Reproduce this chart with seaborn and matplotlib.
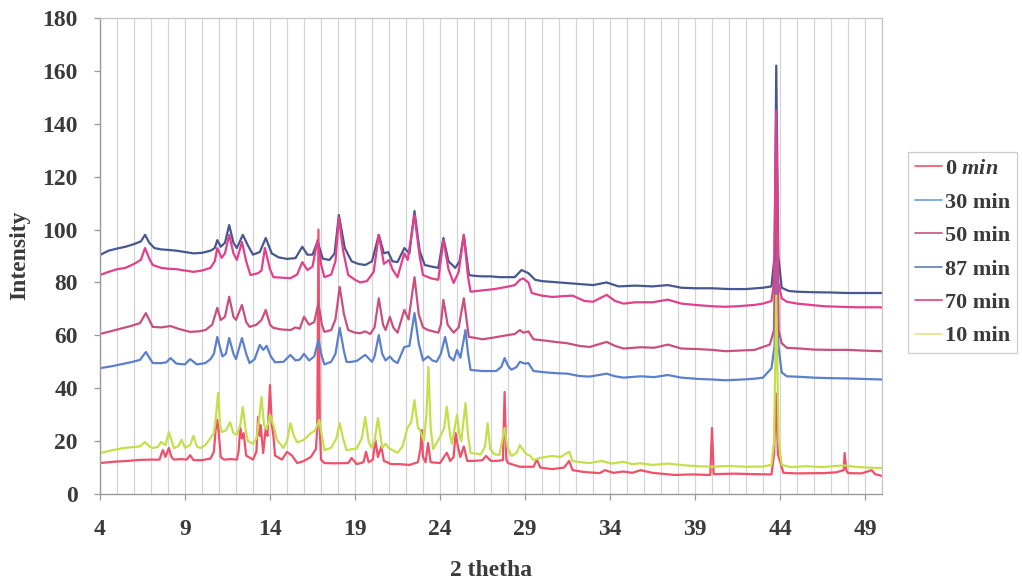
import numpy as np
import pandas as pd
import matplotlib
matplotlib.use("Agg")
import matplotlib.pyplot as plt
from matplotlib.lines import Line2D
import seaborn as sns

# ---------------- data ----------------
series_names = ["0 min", "30 min", "50 min", "87 min", "70 min", "10 min"]

s87 = [(4.0,90.4),(4.5,92),(5.0,92.8),(5.5,93.5),(6.0,94.5),(6.4,95.5),(6.65,98),(6.9,95),(7.2,93),(7.6,92.5),
       (8.0,92.3),(8.5,92),(9.0,91.5),(9.5,91),(10.0,91.2),(10.5,92),(10.75,93),(10.9,96),(11.1,93.5),(11.35,95),
       (11.6,101.7),(11.85,95),(12.05,93),(12.4,98),(12.7,94),(13.0,90.5),(13.4,91.5),(13.75,96.8),(14.1,91),(14.5,89.5),
       (15.0,88.9),(15.5,89.2),(15.9,93.5),(16.2,90.5),(16.5,90.5),(16.8,95.5),(17.1,89),(17.5,88.5),(17.8,91),(18.05,105.5),
       (18.4,93),(18.8,88),(19.2,87),(19.6,86.6),(20.0,88),(20.4,98),(20.7,91),(20.95,91.5),(21.2,88),(21.5,87.7),
       (21.9,93),(22.2,91),(22.5,107),(22.8,92),(23.1,86.6),(23.5,86),(23.9,85.5),(24.2,96.8),(24.5,88),(24.9,85.5),
       (25.15,88),(25.4,98),(25.7,82.8),(26.0,82.5),(26.5,82.3),(27.0,82.3),(27.5,82),(28.0,82),(28.4,82),(28.8,84.7),
       (29.2,83.5),(29.6,81),(30.0,80.5),(31.0,80),(32.0,79.5),(33.0,79),(33.8,80),(34.5,78.5),(35.5,78.8),(36.5,78.5),
       (37.4,79),(38.2,78),(39.0,77.8),(40.0,77.8),(41.0,77.5),(42.0,77.5),(43.0,78),(43.5,78.5),(43.68,90),(43.78,162),
       (43.9,90),(44.1,78),(44.5,76.8),(45.0,76.5),(46.0,76.3),(47.0,76.2),(48.0,76),(49.0,76),(50.0,76)]

s70 = [(4.0,82.8),(4.5,84),(5.0,85),(5.5,85.5),(6.0,87),(6.4,88.5),(6.65,93),(6.9,89),(7.1,86.6),(7.6,85.5),
       (8.0,85.2),(8.5,85),(9.0,84.5),(9.5,84),(10.0,84.5),(10.5,85.5),(10.75,88),(10.9,93),(11.15,89.3),(11.35,91),
       (11.6,98),(11.85,91),(12.05,88.5),(12.35,95.3),(12.6,88),(12.85,82.8),(13.3,83.5),(13.5,84.5),(13.7,93),(14.0,85),
       (14.2,82),(14.7,81.8),(15.2,81.6),(15.6,83),(15.9,87.7),(16.2,84.7),(16.5,86),(16.8,96),(17.0,87),(17.2,82),
       (17.6,83),(17.85,88),(18.05,104.5),(18.3,92),(18.6,82.8),(19.0,81),(19.3,80),(19.7,80.5),(20.1,84),(20.4,98),
       (20.7,87),(21.0,88.5),(21.2,85),(21.5,82),(21.9,91),(22.1,88.5),(22.5,105.5),(22.8,90),(23.0,82.8),(23.5,81.5),
       (23.9,81),(24.2,96),(24.5,85),(24.8,79.8),(25.1,84),(25.4,98),(25.65,82),(25.8,76.5),(26.5,77),(27.2,77.5),
       (27.9,78.3),(28.4,79),(28.7,81),(28.9,81.5),(29.2,80),(29.4,76),(30.0,75),(30.6,74.5),(31.2,74.8),(31.8,75),
       (32.5,73),(33.0,72.7),(33.8,75.3),(34.3,73),(34.8,72),(35.5,72.5),(36.5,72.5),(37.4,73.5),(38.2,72),(39.0,71.5),
       (40.0,71),(40.8,70.8),(41.5,71),(42.5,71.5),(43.0,72),(43.5,73),(43.65,80),(43.78,145),(43.9,80),(44.1,74),
       (44.4,72.7),(45.0,72),(45.8,71.5),(46.6,71),(47.5,70.8),(48.5,70.6),(49.9,70.6),(50.0,70.5)]

s50 = [(4.0,60.5),(4.6,61.5),(5.2,62.5),(5.8,63.5),(6.35,64.6),(6.7,68.4),(7.1,63.2),(7.6,63),(8.15,63.5),(8.6,62.5),
       (9.3,61.3),(9.8,61.5),(10.2,62),(10.6,64),(10.9,70.4),(11.1,65.8),(11.35,67),(11.6,74.6),(11.85,67),(12.0,65.8),
       (12.35,71.5),(12.6,65),(12.8,63.2),(13.2,64),(13.5,65.8),(13.75,69.6),(14.0,64),(14.2,62.8),(14.7,62.2),(15.2,62),
       (15.5,63),(15.75,62.5),(16.0,67),(16.3,64),(16.6,65),(16.85,72.2),(17.05,64),(17.2,61.3),(17.6,62),(17.85,66),
       (18.1,78.3),(18.35,68),(18.6,62),(19.0,61),(19.3,60.8),(19.6,61.5),(19.9,60.5),(20.15,63),(20.4,74),(20.65,64),
       (20.8,62),(21.05,67),(21.25,63),(21.5,61),(21.9,69.6),(22.15,66),(22.5,82),(22.75,68),(23.0,63),(23.3,62),
       (23.9,61),(24.05,64),(24.2,73.4),(24.45,64),(24.8,61),(25.1,63),(25.4,74),(25.6,64),(25.7,59.4),(26.1,59),
       (26.5,58.5),(27.2,59.2),(27.9,60),(28.4,60.5),(28.7,62),(28.9,61),(29.2,61.5),(29.5,58.5),(30.2,58),(30.8,57.5),
       (31.5,57),(32.2,56),(32.8,55.6),(33.8,57.5),(34.3,56),(34.8,55),(35.8,55.5),(36.6,55.3),(37.4,56.5),(38.2,55),
       (39.2,54.8),(40.0,54.5),(40.8,54),(41.8,54.3),(42.5,54.5),(43.0,55.6),(43.4,56.5),(43.65,62),(43.78,125),(43.92,62),
       (44.1,57),(44.4,55.3),(45.2,55),(46.0,54.6),(47.0,54.5),(48.0,54.5),(49.0,54.2),(50.0,54)]

s30 = [(4.0,47.6),(4.6,48.2),(5.2,49),(5.8,49.8),(6.35,50.7),(6.7,53.7),(7.1,49.5),(7.6,49.5),(7.9,49.8),(8.15,51.4),
       (8.5,49.3),(9.0,49),(9.3,51),(9.7,49),(10.2,49.5),(10.5,51),(10.7,53),(10.9,59.4),(11.2,52),(11.4,53),
       (11.6,59),(11.85,53),(12.0,51),(12.35,59),(12.6,53),(12.8,49.5),(13.1,51),(13.4,56.4),(13.6,54.5),(13.8,56),
       (14.05,52),(14.3,49.8),(14.8,50),(15.2,52.6),(15.5,50.5),(15.75,50.8),(16.0,53),(16.3,50.5),(16.6,52),(16.85,58.2),
       (17.05,52),(17.2,49),(17.6,50),(17.85,53),(18.1,62.8),(18.35,54),(18.5,50),(18.7,49.9),(19.1,50.3),(19.6,52.6),
       (20.0,50),(20.15,52),(20.4,60.1),(20.6,53),(20.8,50.5),(21.05,52),(21.25,50.5),(21.5,49.5),(21.9,55.6),(22.2,56),
       (22.5,68.4),(22.75,57),(23.0,50.5),(23.3,52),(23.55,50.5),(23.8,50),(24.05,53),(24.3,59.4),(24.55,52),(24.8,50.5),
       (25.0,54.5),(25.2,51.5),(25.5,62),(25.65,53),(25.8,46.9),(26.5,46.5),(27.3,46.5),(27.6,48),(27.8,51.4),(28.0,48.5),
       (28.2,47),(28.5,48),(28.7,50),(29.0,49.3),(29.2,49.5),(29.5,46.5),(30.2,46),(30.8,45.7),(31.5,45.5),(32.2,44.6),
       (32.8,44.4),(33.8,45.5),(34.3,44.5),(34.8,44),(35.8,44.5),(36.6,44.2),(37.4,45),(38.2,44),(39.2,43.5),(40.0,43.3),
       (40.8,43),(41.8,43.3),(42.5,43.6),(43.0,44),(43.5,47.6),(43.68,56),(43.78,100),(43.9,56),(44.1,46),(44.4,44.5),
       (45.2,44.3),(46.0,44),(47.0,43.8),(48.0,43.7),(49.0,43.5),(50.0,43.3)]

s10 = [(4.0,15.5),(4.7,16.5),(5.4,17.4),(6.0,17.8),(6.35,18),(6.65,19.7),(6.9,18),(7.1,17.4),(7.4,17.8),(7.6,19.7),
       (7.85,18.5),(8.05,23.4),(8.35,17.4),(8.6,18),(8.8,20.5),(9.0,17.5),(9.3,18.5),(9.5,22),(9.7,18),(9.9,17.4),
       (10.2,18.5),(10.5,21.2),(10.7,23),(10.8,28),(10.95,38.2),(11.05,27),(11.15,23.4),(11.4,24),(11.65,27.2),(11.85,23),
       (12.05,22.5),(12.25,26),(12.4,32.9),(12.55,25),(12.7,20),(13.0,19),(13.2,21),(13.3,25.3),(13.5,36.7),(13.65,26),
       (13.8,24.5),(14.0,30),(14.1,28),(14.25,25),(14.4,20.5),(14.8,17.4),(15.0,20),(15.2,26.8),(15.4,22),(15.6,19.5),
       (16.0,20.5),(16.4,23),(16.65,24),(16.9,28),(17.05,22),(17.2,16.6),(17.6,17.5),(17.9,21),(18.1,26.8),(18.3,21),
       (18.5,16.6),(19.1,17.2),(19.4,21),(19.6,29.1),(19.8,20),(19.95,17.5),(20.15,20),(20.35,28.7),(20.5,22),(20.6,17.5),
       (20.8,19),(21.0,17.3),(21.5,15.6),(21.8,18),(22.1,25.3),(22.3,27),(22.5,35.5),(22.7,25),(22.8,24.5),(23.05,20),
       (23.2,30),(23.32,48),(23.45,25),(23.6,17),(24.0,21.5),(24.25,25),(24.4,33),(24.6,22),(24.7,19),(25.0,29.9),
       (25.15,22),(25.25,20),(25.5,34.4),(25.65,22),(25.8,15.5),(26.2,15.2),(26.4,15),(26.65,18),(26.8,26.8),(26.95,17),
       (27.2,15),(27.5,14.8),(27.8,25),(27.95,18),(28.2,14.4),(28.5,15.5),(28.7,18.5),(28.9,16.5),(29.1,15),(29.3,14.5),
       (29.5,12.9),(30.0,13.8),(30.6,14.4),(31.1,14),(31.6,16),(31.8,12.5),(32.3,12),(32.8,11.7),(33.5,12.5),(34.1,11.5),
       (34.8,12.2),(35.3,11.3),(35.8,11.6),(36.5,11),(37.4,11.5),(38.5,10.8),(39.2,10.5),(40.0,10.3),(41.0,10.6),(42.0,10.3),
       (43.0,10.4),(43.5,11),(43.65,20),(43.78,75),(43.92,20),(44.1,11),(44.6,10.2),(45.5,10.5),(46.5,10.2),(47.3,10.6),
       (47.8,10.8),(48.5,10.2),(49.2,10),(50.0,9.8)]

s0 = [(4.0,11.7),(4.8,12.2),(5.6,12.5),(6.35,12.9),(7.0,13),(7.5,13),(7.6,15),(7.7,16.6),(7.85,14),(8.05,17.4),
      (8.2,14),(8.35,13),(8.8,13.2),(9.1,13),(9.3,14.7),(9.5,12.8),(10.0,12.8),(10.5,13.4),(10.7,16),(10.8,24.2),
      (10.9,28),(11.0,22),(11.1,14),(11.3,13),(11.7,13.2),(12.05,13),(12.15,16),(12.25,25.3),(12.35,21),(12.45,23),
      (12.6,14.5),(13.0,13),(13.2,16),(13.3,29.1),(13.4,22),(13.45,26),(13.6,15.5),(13.75,25),(13.85,22),(14.0,41.2),
      (14.1,26.5),(14.2,22),(14.3,14.5),(14.7,13),(15.0,15.9),(15.3,14.5),(15.6,11.7),(16.0,12.5),(16.4,14),(16.7,17),
      (16.78,25),(16.85,100),(16.93,25),(17.0,13),(17.2,11.7),(17.8,11.6),(18.6,11.7),(18.8,13.6),(19.1,11.3),(19.5,12),
      (19.65,16),(19.8,12),(20.05,13),(20.2,20.4),(20.35,14),(20.55,18),(20.7,12.5),(20.9,12),(21.1,11.3),(21.6,11.3),
      (22.2,11),(22.7,12),(22.85,17),(22.92,24.2),(23.0,14),(23.15,12),(23.3,19.3),(23.45,12),(24.0,11.7),(24.4,15.6),
      (24.6,12.5),(24.8,14),(24.92,23),(25.05,18),(25.2,14),(25.4,18),(25.6,12.5),(26.0,12.5),(26.5,12.8),(26.7,14.4),
      (27.0,12.5),(27.3,12.5),(27.7,12.8),(27.8,38.6),(27.9,13),(28.0,11.7),(28.7,10.3),(29.5,10.3),(29.7,13),(29.9,10),
      (30.6,9.4),(31.3,10),(31.6,12.5),(31.8,9),(32.5,8.3),(33.4,7.9),(33.7,9),(34.2,8),(34.8,8.5),(35.3,8),
      (35.8,9),(36.5,8),(37.8,7.2),(38.8,7.4),(39.9,7.2),(40.0,25),(40.1,7.5),(41.3,7.7),(42.5,7.5),(43.5,7.4),
      (43.65,15),(43.76,38),(43.88,15),(44.2,8),(45.0,7.8),(46.6,7.9),(47.3,8.2),(47.75,9),(47.8,15.5),(47.9,9),
      (48.0,7.9),(48.8,7.8),(49.4,9),(49.6,7.5),(50.0,6.8)]

x_ticks = [4, 9, 14, 19, 24, 29, 34, 39, 44, 49]
y_ticks = [0, 20, 40, 60, 80, 100, 120, 140, 160, 180]

series_data = {"0 min": s0, "30 min": s30, "50 min": s50, "87 min": s87, "70 min": s70, "10 min": s10}
colors = {"0 min": "#f0506a", "30 min": "#5b80cc", "50 min": "#c9507e",
          "87 min": "#47578f", "70 min": "#e2408c", "10 min": "#c5df4c"}
legend_colors = {"0 min": "#f0506a", "30 min": "#6a9fd0", "50 min": "#c9507e",
                 "87 min": "#5b7fb0", "70 min": "#e2408c", "10 min": "#dde88a"}

frames = []
for name in series_names:
    pts = series_data[name]
    frames.append(pd.DataFrame({"theta": [p[0] for p in pts],
                                "intensity": [p[1] for p in pts],
                                "series": name}))
df = pd.concat(frames, ignore_index=True)

# ---------------- figure ----------------
sns.set_theme(style="white")
plt.rcParams["font.family"] = ["Liberation Serif", "DejaVu Serif"]
plt.rcParams["font.weight"] = "bold"
plt.rcParams["mathtext.fontset"] = "custom"
plt.rcParams["mathtext.it"] = "Liberation Serif:italic:bold"
plt.rcParams["mathtext.rm"] = "Liberation Serif:bold"

fig = plt.figure(figsize=(10.22, 5.85), dpi=100)
ax = fig.add_axes([100 / 1022, 91 / 585, 782 / 1022, 476 / 585])

sns.lineplot(data=df, x="theta", y="intensity", hue="series", hue_order=series_names,
             palette=colors, estimator=None, sort=True, linewidth=1.6, ax=ax, legend=False)

ax.set_xlim(4, 50)
ax.set_ylim(0, 180)
ax.set_xticks(x_ticks)
ax.set_xticks(np.arange(4, 51, 1), minor=True)
ax.set_yticks(y_ticks)
ax.grid(False)
ax.xaxis.grid(True, which="both", color="#d4d4d4", linewidth=0.9)
ax.set_axisbelow(True)

ax.tick_params(axis="both", which="major", labelsize=17, labelcolor="#3a3a3a",
               color="#999999", length=4, width=0.9, direction="out")
ax.tick_params(axis="both", which="minor", length=0)
ax.tick_params(axis="x", pad=14)
ax.tick_params(axis="y", pad=12)
ax.tick_params(left=True, bottom=True)
for lab in ax.get_xticklabels() + ax.get_yticklabels():
    lab.set_fontweight("bold")

for side in ["left", "bottom"]:
    ax.spines[side].set_color("#9a9a9a")
    ax.spines[side].set_linewidth(1.0)
for side in ["top", "right"]:
    ax.spines[side].set_color("#c4c4c4")
    ax.spines[side].set_linewidth(0.9)

ax.set_xlabel("2 thetha", fontsize=17, fontweight="bold", color="#3a3a3a")
ax.set_ylabel("Intensity", fontsize=17, fontweight="bold", color="#3a3a3a")
ax.xaxis.set_label_coords(0.5, (494 - 560) / 476)
ax.yaxis.set_label_coords((30 - 100) / 782, 0.5 + (494 - 255 - 238) / 476)

labels_display = {"0 min": r"0 $\mathit{min}$"}
handles = [Line2D([0], [0], color=legend_colors[n], linewidth=1.2) for n in series_names]
labels = [labels_display.get(n, n) for n in series_names]
leg = fig.legend(handles, labels, loc="upper left", bbox_to_anchor=(908 / 1022, 1 - 152 / 585),
                 frameon=True, fancybox=False, edgecolor="#c0c0c0", fontsize=16,
                 handlelength=1.25, handletextpad=0.12, labelspacing=0.58, borderpad=0.3,
                 borderaxespad=0)
leg.get_frame().set_linewidth(0.9)
for t in leg.get_texts():
    t.set_color("#3a3a3a")
    t.set_fontweight("bold")

fig.savefig("out.png", dpi=100, facecolor="white")
